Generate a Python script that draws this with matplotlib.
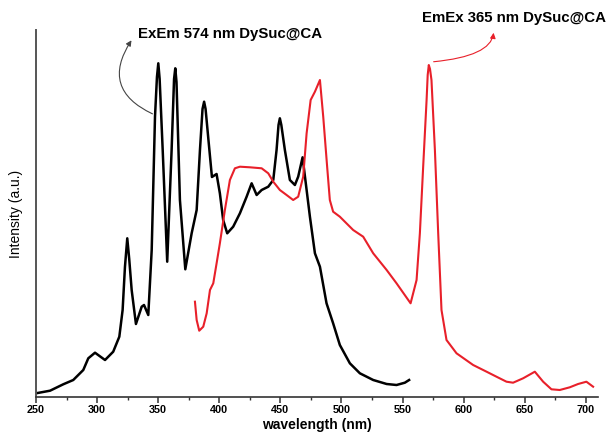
import matplotlib
matplotlib.use("Agg")
import matplotlib.pyplot as plt

plt.rcParams['font.family'] = ['Liberation Sans', 'DejaVu Sans']

# Excitation spectrum (emission monitored at 574 nm)
ex_wavelength = [250.0, 261.5, 272.3, 280.5, 288.7, 292.8, 298.3, 306.5, 313.2, 318.2,
                 320.9, 322.8, 324.7, 326.3, 328.3, 331.8, 336.5, 338.4, 341.9, 344.7,
                 347.4, 349.0, 350.1, 351.2, 353.7, 357.4, 361.0, 363.0, 364.0, 365.0,
                 367.8, 372.2, 377.4, 381.5, 384.2, 386.3, 387.6, 388.8, 391.0, 394.0,
                 397.8, 400.5, 403.2, 406.5, 411.4, 416.9, 422.4, 426.5, 430.6, 434.7,
                 440.1, 444.2, 446.9, 448.5, 449.6, 450.8, 453.7, 457.8, 461.9, 464.6,
                 468.2, 471.5, 474.2, 478.3, 482.4, 487.8, 493.2, 498.7, 506.9, 515.1,
                 526.0, 537.0, 545.1, 551.9, 555.4]
ex_intensity = [3.7, 6.3, 12.7, 17.0, 27.0, 38.7, 44.3, 37.0, 45.3, 60.3,
                87.0, 130.0, 158.7, 138.0, 107.0, 73.0, 90.3, 92.0, 82.0, 147.0,
                280.3, 320.0, 333.7, 318.0, 247.0, 135.3, 247.0, 318.0, 328.7, 315.0,
                197.0, 127.7, 163.7, 187.0, 247.0, 288.0, 295.3, 288.0, 259.0, 220.0,
                223.0, 203.7, 177.0, 163.7, 170.3, 183.7, 200.3, 213.7, 202.0, 207.0,
                210.3, 217.0, 247.0, 272.0, 278.7, 272.0, 247.0, 217.0, 212.0, 220.3,
                239.7, 207.0, 180.3, 143.7, 130.3, 93.7, 73.7, 52.0, 33.7, 23.7,
                17.0, 13.0, 12.0, 14.3, 17.0]

# Emission spectrum (excitation at 365 nm)
em_wavelength = [380.1, 381.5, 383.6, 386.9, 389.7, 392.4, 395.1, 398.0, 400.5, 404.6,
                 408.7, 412.8, 416.9, 425.1, 434.7, 440.1, 444.2, 449.6, 455.1, 460.5,
                 464.6, 468.7, 471.5, 474.8, 478.3, 482.4, 485.1, 488.3, 490.5, 493.2,
                 498.7, 509.6, 517.8, 526.0, 537.0, 545.1, 556.6, 561.5, 564.2, 566.9,
                 569.7, 570.6, 571.5, 572.5, 573.7, 576.5, 579.2, 581.9, 586.0, 594.2,
                 607.8, 618.8, 626.9, 635.1, 640.5, 648.7, 658.3, 665.1, 671.9, 678.7,
                 686.9, 693.7, 700.5, 706.0]
em_intensity = [95.3, 77.0, 66.3, 70.3, 83.7, 107.0, 113.7, 135.0, 153.7, 187.0,
                217.0, 228.7, 230.3, 229.7, 228.7, 223.7, 215.3, 207.0, 202.0, 197.0,
                200.3, 220.3, 263.7, 297.0, 305.3, 317.0, 280.3, 230.3, 197.0, 185.3,
                180.3, 167.0, 160.3, 143.7, 127.0, 113.7, 93.7, 117.0, 163.7, 230.3,
                297.0, 322.0, 332.0, 328.0, 317.0, 247.0, 163.7, 87.0, 57.0, 43.7,
                32.0, 25.3, 20.3, 15.3, 14.3, 18.7, 25.3, 15.3, 7.7, 7.0,
                9.7, 13.0, 15.3, 10.3]

x_ticks = [250, 300, 350, 400, 450, 500, 550, 600, 650, 700]
ex_label = "ExEm 574 nm DySuc@CA"
em_label = "EmEx 365 nm DySuc@CA"

fig = plt.figure(figsize=(6.08, 4.41), dpi=100)
ax = fig.add_axes([36 / 608, 44 / 441, 562 / 608, 367 / 441])

ax.plot(ex_wavelength, ex_intensity, color='black', lw=1.8)
ax.plot(em_wavelength, em_intensity, color='#e8202a', lw=1.5)

ax.set_xlim(250, 710)
ax.set_ylim(0, 367)

ax.set_xticks(x_ticks)
ax.set_xticks(range(275, 710, 50), minor=True)
ax.set_yticks([])
for lbl in ax.get_xticklabels():
    lbl.set_fontweight('bold')
ax.tick_params(axis='x', which='major', direction='out', length=4, width=1.1,
               labelsize=7.8, pad=2, color='#333333')
ax.tick_params(axis='x', which='minor', direction='out', length=2.5, width=1.0,
               color='#333333')

for side in ('top', 'right'):
    ax.spines[side].set_visible(False)
ax.spines['left'].set_color('#555555')
ax.spines['left'].set_linewidth(1.4)
ax.spines['bottom'].set_color('#333333')
ax.spines['bottom'].set_linewidth(1.2)

ax.set_xlabel('wavelength (nm)', fontsize=10, fontweight='bold', labelpad=2)
ax.set_ylabel('Intensity (a.u.)', fontsize=10, labelpad=9)

# Curved pointers from each spectrum to its label
ax.annotate('', xy=(329.4, 359), xytext=(347.4, 282),
            arrowprops=dict(arrowstyle='-|>', color='#444444', lw=0.8,
                            mutation_scale=8,
                            connectionstyle='arc3,rad=-0.6'),
            annotation_clip=False)
ax.text(333.5, 363, ex_label, fontsize=10.8, fontweight='bold',
        ha='left', va='center', clip_on=False)

ax.annotate('', xy=(624.7, 367), xytext=(573.2, 335),
            arrowprops=dict(arrowstyle='-|>', color='#e8202a', lw=0.8,
                            mutation_scale=8,
                            connectionstyle='angle3,angleA=5,angleB=90'),
            annotation_clip=False)
ax.text(565.8, 379, em_label, fontsize=10.8, fontweight='bold',
        ha='left', va='center', clip_on=False)

fig.savefig('out.png', dpi=100)
